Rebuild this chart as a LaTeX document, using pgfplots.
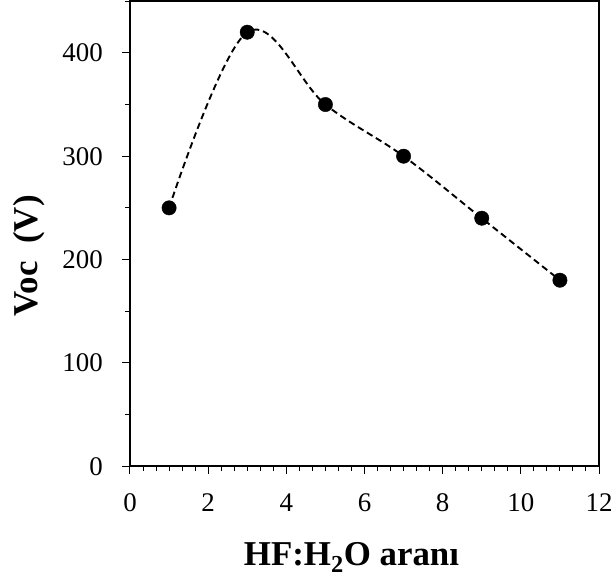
\documentclass[border=0pt]{standalone}
\usepackage{fontspec}
\setmainfont{Liberation Serif}
\usepackage{pgfplots}
\pgfplotsset{compat=1.18}
\begin{document}
\begin{tikzpicture}
\begin{axis}[
  name=main,
  scale only axis,
  width=469bp, height=465bp,
  xmin=0, xmax=12, ymin=0, ymax=450,
  axis lines=box,
  xtick={0,2,...,12}, ytick={0,100,...,400},
  minor xtick={0,0.333333,...,12},
  minor ytick={50,150,...,450},
  xtick pos=left, ytick pos=left,
  tick align=outside,
  major tick length=8bp, minor tick length=5bp,
  every tick/.style={black, line width=1bp},
  axis line style={black, line width=1.5bp},
  /pgf/number format/assume math mode=true,
  tick label style={font=\fontsize{27}{29}\selectfont, inner sep=0pt},
  xticklabel style={anchor=base, yshift=-37bp},
  yticklabel style={anchor=east, xshift=-19bp},
  xlabel={\textbf{HF:H\textsubscript{2}O aranı}},
  ylabel={\textbf{Voc\hspace{0.5em}(V)}},
  label style={font=\fontsize{35}{37}\selectfont, inner sep=0pt},
  xlabel style={at={(axis description cs:0.5,0)}, anchor=base, yshift=-99bp, xshift=-13bp},
  ylabel style={at={(axis description cs:0,0.5)}, anchor=base, yshift=92bp, xshift=-22bp},
  clip=false,
]
\addplot[black, line width=1.9bp, dash pattern=on 6.5bp off 4bp, smooth, tension=0.6]
  coordinates {(1,250) (3,420) (5,350) (7,300) (9,240) (11,180)};
\addplot[only marks, mark=*, mark size=7.2bp, black]
  coordinates {(1,250) (3,420) (5,350) (7,300) (9,240) (11,180)};
% top and right edges of the frame
\draw[black, line width=1.5bp] (rel axis cs:0,1) -- (rel axis cs:1,1) -- (rel axis cs:1,0);
\end{axis}
\pgfresetboundingbox
\path (main.south west) ++(-130bp,-119.8bp) rectangle ++(616bp,586bp);
\end{tikzpicture}
\end{document}
